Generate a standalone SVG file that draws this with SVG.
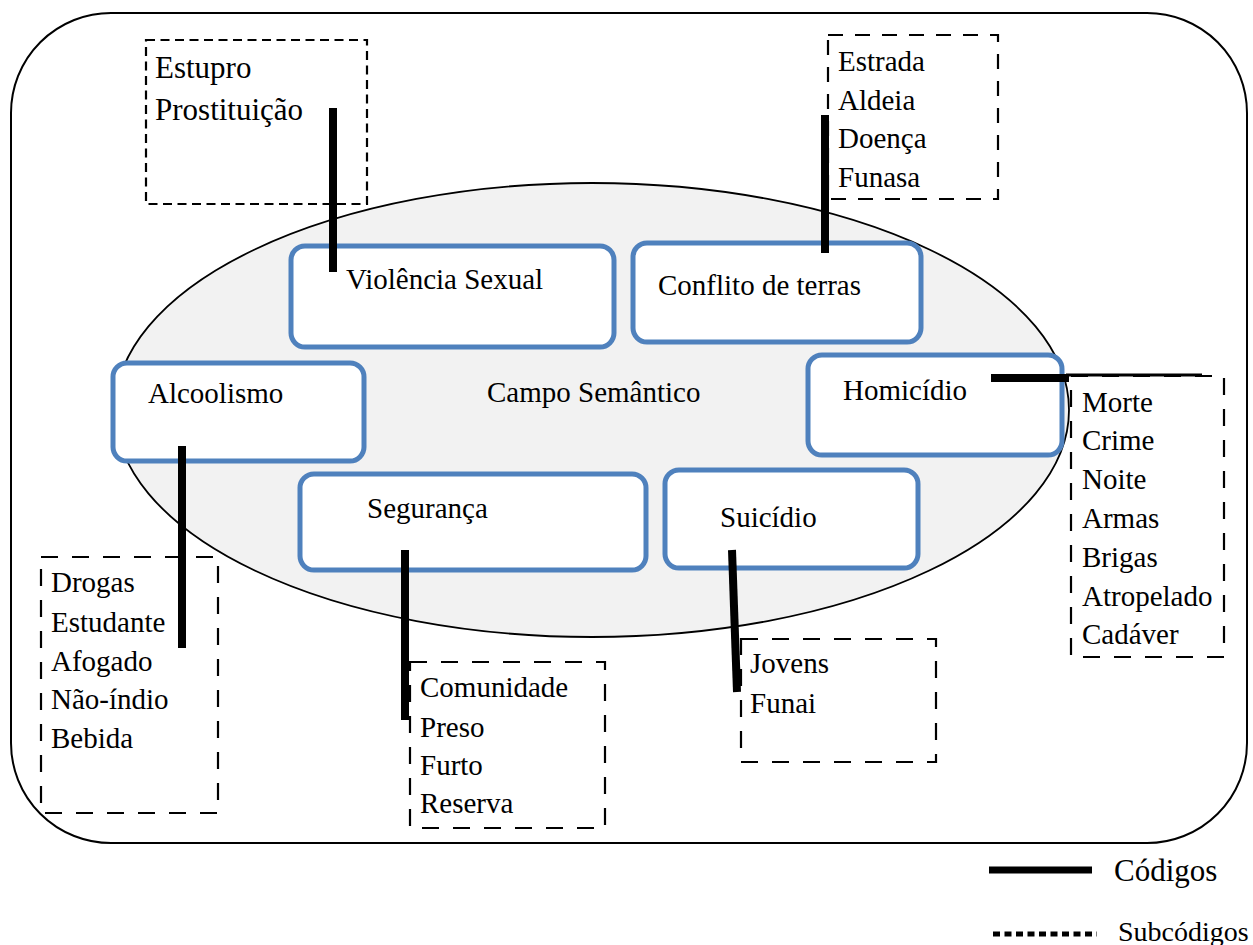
<svg xmlns="http://www.w3.org/2000/svg" width="1253" height="945" viewBox="0 0 1253 945">
<style>
text{font-family:"Liberation Serif","Times New Roman",serif;font-size:29px;fill:#000}
.node{fill:#fff;stroke:#4f81bd;stroke-width:5}
.sub{fill:none;stroke:#000;stroke-width:2.2;stroke-dasharray:17 14}
.code{stroke:#000;stroke-width:8;fill:none}
</style>
<g id="frame">
<rect x="11" y="13" width="1236" height="830" rx="100" ry="100" fill="#fff" stroke="#000" stroke-width="2"/>
<ellipse cx="592" cy="410" rx="477" ry="227" fill="#f2f2f2" stroke="#000" stroke-width="1.8"/>
<text x="487" y="402">Campo Semântico</text>
</g>
<g id="violencia"><rect class="node" x="291" y="246" width="323" height="101" rx="14"/><text x="346" y="289">Violência Sexual</text></g>
<g id="conflito"><rect class="node" x="633" y="243" width="288" height="99" rx="14"/><text x="658" y="295">Conflito de terras</text></g>
<g id="alcoolismo"><rect class="node" x="113" y="363" width="251" height="98" rx="14"/><text x="148" y="403">Alcoolismo</text></g>
<g id="homicidio"><rect class="node" x="808" y="355" width="254" height="100" rx="14"/><text x="843" y="400">Homicídio</text></g>
<g id="seguranca"><rect class="node" x="300" y="474" width="346" height="96" rx="14"/><text x="367" y="518">Segurança</text></g>
<g id="suicidio"><rect class="node" x="665" y="470" width="253" height="98" rx="14"/><text x="720" y="527">Suicídio</text></g>
<g id="sub-violencia"><rect class="sub" x="146" y="40" width="221" height="164" style="stroke-dasharray:9 5.5"/><text x="155" y="78" style="font-size:31px">Estupro</text><text x="155" y="120" style="font-size:31px">Prostituição</text></g>
<g id="sub-conflito"><rect class="sub" x="828" y="35" width="170" height="164" style="stroke-dasharray:15 12"/><text x="838" y="71">Estrada</text><text x="838" y="110">Aldeia</text><text x="838" y="148">Doença</text><text x="838" y="187">Funasa</text></g>
<g id="sub-homicidio"><rect class="sub" x="1071" y="376" width="153" height="281"/><text x="1082" y="412">Morte</text><text x="1082" y="450">Crime</text><text x="1082" y="489">Noite</text><text x="1082" y="528">Armas</text><text x="1082" y="567">Brigas</text><text x="1082" y="606">Atropelado</text><text x="1082" y="644">Cadáver</text></g>
<g id="sub-alcoolismo"><rect class="sub" x="41" y="557" width="177" height="256"/><text x="51" y="592">Drogas</text><text x="51" y="632">Estudante</text><text x="51" y="671">Afogado</text><text x="51" y="709">Não-índio</text><text x="51" y="748">Bebida</text></g>
<g id="sub-seguranca"><rect class="sub" x="410" y="662" width="195" height="166"/><text x="420" y="697">Comunidade</text><text x="420" y="737">Preso</text><text x="420" y="775">Furto</text><text x="420" y="813">Reserva</text></g>
<g id="sub-suicidio"><rect class="sub" x="741" y="639" width="195" height="123"/><text x="750" y="673">Jovens</text><text x="750" y="713">Funai</text></g>
<g id="connectors">
<line class="code" x1="333" y1="108" x2="333" y2="272"/>
<line class="code" x1="825" y1="115" x2="825" y2="253"/>
<line class="code" x1="182" y1="446" x2="182" y2="648"/>
<line class="code" x1="405" y1="550" x2="405" y2="720"/>
<line class="code" x1="732" y1="550" x2="737" y2="692"/>
<line class="code" x1="991" y1="378" x2="1069" y2="378"/>
<line x1="1066" y1="375" x2="1202" y2="375" stroke="#000" stroke-width="3"/>
</g>
<g id="legend">
<line x1="989" y1="870" x2="1092" y2="870" stroke="#000" stroke-width="7"/>
<text x="1114" y="881" style="font-size:31px">Códigos</text>
<line x1="993" y1="934" x2="1097" y2="934" stroke="#000" stroke-width="5" stroke-dasharray="7 4.5"/>
<text x="1118" y="941" style="font-size:28px">Subcódigos</text>
</g>
</svg>
